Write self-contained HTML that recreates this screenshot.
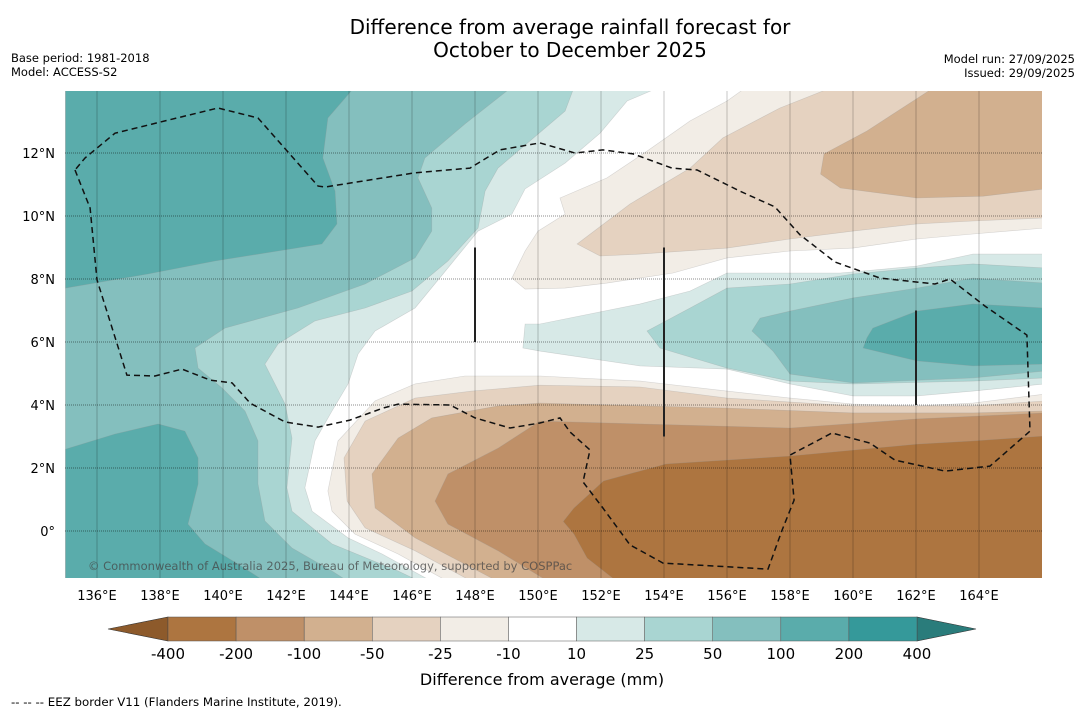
<!DOCTYPE html>
<html><head><meta charset="utf-8"><style>
body{margin:0;background:#fff;width:1085px;height:713px;overflow:hidden;font-family:"Liberation Sans","DejaVu Sans",sans-serif}
svg text{font-family:"DejaVu Sans","Liberation Sans",sans-serif}
</style></head><body>
<svg id="chart" width="1085" height="713" xmlns="http://www.w3.org/2000/svg">
<text x="570" y="34" text-anchor="middle" font-size="20">Difference from average rainfall forecast for</text>
<text x="570" y="57" text-anchor="middle" font-size="20">October to December 2025</text>
<text x="11" y="62" font-size="11.5">Base period: 1981-2018</text>
<text x="11" y="76" font-size="11.5">Model: ACCESS-S2</text>
<text x="1075" y="63" text-anchor="end" font-size="11.5">Model run: 27/09/2025</text>
<text x="1075" y="77" text-anchor="end" font-size="11.5">Issued: 29/09/2025</text>
<defs><clipPath id="mc"><rect x="65" y="91" width="977" height="487"/></clipPath></defs>
<g id="map" clip-path="url(#mc)"></g>
<g id="axes"></g>
<g id="cbar"></g>
<text x="542" y="685" text-anchor="middle" font-size="16">Difference from average (mm)</text>
<text x="11" y="706" font-size="11.8">--  --  -- EEZ border V11 (Flanders Marine Institute, 2019).</text>
</svg>
<script>
const lonTicks=[136,138,140,142,144,146,148,150,152,154,156,158,160,162,164];
const latTicks=[0,2,4,6,8,10,12];
const levels=[-400,-200,-100,-50,-25,-10,10,25,50,100,200,400];
const levelColors=["#ad7540","#bf9068","#d2b08f","#e5d2c0","#f2ede6","#ffffff","#d7e9e7","#a9d5d2","#84bfbe","#5aacab","#35999a"];
// contour regions [lon,lat]
const W10=[[135,14],[153.65,14],[152.83,13.65],[151.97,12.63],[150.86,11.68],[149.59,10.86],[149.17,10.06],[148.1,9.52],[147.14,8.35],[146.1,7.08],[144.83,6.35],[144.29,5.62],[143.97,4.67],[143.46,3.81],[142.92,2.86],[142.6,1.37],[142.83,0.63],[143.97,-0.22],[145.05,-0.73],[146.63,-1.6],[135,-1.6]];
const W25=[[135,14],[151.11,14],[150.86,13.33],[150,12.6],[148.73,11.52],[148.32,10.79],[148.1,9.62],[147.14,8.57],[146,7.62],[144.51,7.08],[142.92,6.67],[141.75,5.94],[141.33,5.3],[141.97,4.03],[142.19,2.95],[142.03,1.37],[142.19,0.63],[143.46,-0.41],[145.56,-1.27],[146.25,-1.6],[135,-1.6]];
const W50=[[135,14],[149.05,14],[147.68,12.92],[146.41,11.84],[146.19,11.21],[146.63,10.25],[146.63,9.52],[146.1,8.67],[144.51,7.84],[142.38,7.08],[140.06,6.44],[139.11,5.81],[139.21,5.17],[139.97,4.54],[140.7,3.81],[141.11,2.86],[141.11,1.49],[141.33,0.32],[142.19,-0.54],[143.46,-1.27],[143.97,-1.6],[135,-1.6]];
const W100N=[[135,14],[144.1,14],[143.33,13.11],[143.17,11.84],[143.56,10.79],[143.62,9.75],[143.14,9.11],[141.75,8.89],[139.75,8.57],[137.62,8.16],[135,7.71]];
const W100S=[[135,2.6],[136.57,3.08],[137.94,3.4],[138.79,3.17],[139.21,2.32],[139.21,1.49],[138.89,0.22],[139.43,-0.41],[140.48,-1.05],[141.33,-1.6],[135,-1.6]];
const E10=[[150.06,6.57],[149.59,6.57],[149.52,5.81],[150.06,5.71],[153.24,5.24],[156,5.14],[158,4.67],[160,4.29],[162.03,4.29],[163.81,4.44],[166.1,4.67],[166.1,8.79],[163.81,8.79],[162.03,8.41],[159.59,8.19],[156,8.19],[154.83,7.62],[153.24,7.21]];
const E25=[[153.46,6.35],[154.83,7.08],[156,7.71],[158,7.84],[160,8.16],[162.03,8.35],[163.81,8.48],[166.1,8.35],[166.1,4.86],[163.81,4.76],[160,4.67],[158,4.76],[156,5.17],[153.87,5.81]];
const E50=[[156.79,6.35],[157.05,6.76],[158,6.98],[160,7.4],[162.03,7.71],[163.81,8.03],[166.1,7.87],[166.1,5.08],[163.81,4.86],[160,4.7],[158,4.98],[157.46,5.71]];
const E100=[[160.44,6.13],[160.63,6.44],[162.03,6.98],[163.81,7.21],[166.1,7.08],[166.1,5.3],[163.81,5.24],[162.03,5.4],[160.32,5.81]];
const S10=[[166.1,4.35],[163.81,4.06],[162.03,3.97],[160,4.03],[158,4.22],[156,4.44],[153.24,4.76],[150.06,4.92],[147.68,4.92],[146.1,4.67],[144.83,4.13],[143.65,2.86],[143.33,1.27],[143.46,0.63],[144.19,-0.1],[145.56,-0.73],[147.14,-1.6],[166.1,-1.6]];
const S25=[[166.1,4.13],[163.81,3.97],[160,3.97],[156,4.22],[153.24,4.57],[150.06,4.63],[147.9,4.44],[146.1,4.22],[144.51,3.49],[143.84,2.32],[143.94,0.95],[144.51,0.1],[146.1,-0.63],[147.9,-1.6],[166.1,-1.6]];
const S50=[[166.1,3.81],[163.81,3.75],[160,3.75],[156,3.9],[150.06,4.06],[148.73,3.97],[146.63,3.59],[145.56,2.95],[144.73,1.81],[144.83,0.73],[146.1,-0.22],[147.68,-1.05],[148.73,-1.6],[166.1,-1.6]];
const S100=[[166.1,3.75],[162.03,3.56],[158,3.27],[153.24,3.4],[150.06,3.49],[148.73,2.63],[147.14,1.81],[146.73,0.95],[147.14,0.22],[148.73,-0.63],[150.32,-1.6],[166.1,-1.6]];
const S200=[[166.1,3.02],[163.81,2.86],[162.03,2.76],[158,2.38],[154.06,2.13],[152.08,1.59],[151.14,0.73],[150.8,0.3],[151.14,-0.1],[151.56,-0.86],[152.5,-1.6],[166.1,-1.6]];
const N10=[[156.63,14.1],[156,13.65],[154.83,13.02],[153.46,12.06],[152.19,11.21],[150.7,10.57],[150.86,10.06],[150,9.52],[149.59,8.89],[149.17,8.03],[149.59,7.68],[150.86,7.71],[152.19,7.87],[154.29,8.19],[156,8.67],[158,8.89],[160,8.98],[162.03,9.27],[163.81,9.43],[166.1,9.62],[166.1,14.1]];
const N25=[[159.37,14.1],[157.68,13.43],[155.87,12.48],[154.83,11.52],[152.92,10.38],[151.24,9.11],[151.97,8.73],[153.24,8.79],[156,8.98],[158,9.27],[160,9.52],[162.03,9.75],[163.81,9.84],[166.1,9.94],[166.1,14.1]];
const N50=[[162.6,14.1],[160.44,12.7],[159.08,11.97],[158.97,11.33],[159.6,10.89],[162.03,10.57],[164.13,10.63],[166.1,10.86],[166.1,14.1]];
const eez=[[135.3,11.46],[135.78,10.25],[136,7.97],[136.95,4.95],[137.84,4.92],[138.7,5.14],[139.59,4.79],[140.29,4.7],[140.86,4.06],[141.97,3.46],[143.02,3.3],[144.03,3.52],[145.08,3.9],[145.56,4.03],[147.21,4.0],[148,3.59],[149.11,3.27],[150.06,3.43],[150.7,3.59],[151.02,3.14],[151.65,2.57],[151.43,1.56],[152.06,0.73],[152.92,-0.44],[153.97,-1.02],[157.3,-1.21],[157.75,0.03],[158.13,0.98],[158,2.41],[159.33,3.11],[160.54,2.79],[161.33,2.25],[162.92,1.9],[164.35,2.06],[165.62,3.17],[165.52,6.22],[164.19,7.14],[163.08,8.0],[162.6,7.84],[160.86,8.03],[159.43,8.54],[158.32,9.4],[157.52,10.29],[156.41,10.79],[155.05,11.46],[154.25,11.52],[153.02,11.97],[152.06,12.1],[151.17,12.0],[150.06,12.32],[148.79,12.1],[148,11.62],[147.84,11.52],[146.1,11.37],[143.24,10.92],[143.02,10.95],[141.11,13.11],[139.84,13.43],[138.16,13.02],[136.57,12.63],[135.62,11.84],[135.3,11.46]];
const bars=[[148,9,6],[154,9,3],[162,7,4]];

const X=lon=>65.5+(lon-135)*31.5, Y=lat=>531-lat*31.5;
const NS="http://www.w3.org/2000/svg";
const map=document.getElementById('map'), axes=document.getElementById('axes'), cb=document.getElementById('cbar');
function mk(tag,attrs,parent){const e=document.createElementNS(NS,tag);for(const k in attrs)e.setAttribute(k,attrs[k]);parent.appendChild(e);return e;}
const pts=a=>a.map(p=>X(p[0]).toFixed(1)+','+Y(p[1]).toFixed(1)).join(' ');
const bg=mk('rect',{x:65,y:91,width:977,height:487,fill:'#ffffff'},map);


const layers=[["contour-west-10",W10,6],["contour-west-25",W25,7],["contour-west-50",W50,8],["contour-west-100-north",W100N,9],["contour-west-100-south",W100S,9],["contour-east-10",E10,6],["contour-east-25",E25,7],["contour-east-50",E50,8],["contour-east-100",E100,9],["contour-south-10",S10,4],["contour-south-25",S25,3],["contour-south-50",S50,2],["contour-south-100",S100,1],["contour-south-200",S200,0],["contour-north-10",N10,4],["contour-north-25",N25,3],["contour-north-50",N50,2]];
layers.forEach(l=>{const p=mk('polygon',{points:pts(l[1]),fill:levelColors[l[2]],stroke:'rgba(150,150,150,0.35)','stroke-width':0.6},map);

});
lonTicks.forEach(v=>{const g=mk('line',{x1:X(v),x2:X(v),y1:91,y2:578,stroke:'rgba(0,0,0,0.22)','stroke-width':1},map);


const t=mk('text',{x:X(v),y:600,'text-anchor':'middle','font-size':13},axes);t.textContent=v+'°E';

});
latTicks.forEach(v=>{const g=mk('line',{x1:65,x2:1042,y1:Y(v),y2:Y(v),stroke:'rgba(0,0,0,0.45)','stroke-width':1,'stroke-dasharray':'1,1'},map);


const t=mk('text',{x:55,y:Y(v)+5,'text-anchor':'end','font-size':13},axes);t.textContent=v===0?'0°':v+'°N';

});
bars.forEach(b=>{const l=mk('line',{x1:X(b[0]),x2:X(b[0]),y1:Y(b[1]),y2:Y(b[2]),stroke:'#222','stroke-width':2},map);

});
const e=mk('polyline',{points:pts(eez),fill:'none',stroke:'#111','stroke-width':1.5,'stroke-dasharray':'6,4'},map);


const cp=mk('text',{x:88,y:570,'font-size':11.5,fill:'rgba(70,70,70,0.75)'},map);cp.textContent='© Commonwealth of Australia 2025, Bureau of Meteorology, supported by COSPPac';


// colorbar
const cx0=168,cw=(917-168)/11,cy=617,ch=24;
const lt=mk('polygon',{points:`108,${cy+ch/2} ${cx0},${cy} ${cx0},${cy+ch}`,fill:'#8d5a2b',stroke:'#333','stroke-width':0.6},cb);


const rt=mk('polygon',{points:`976,${cy+ch/2} 917,${cy} 917,${cy+ch}`,fill:'#2a7c7b',stroke:'#333','stroke-width':0.6},cb);


levelColors.forEach((c,i)=>{const r=mk('rect',{x:cx0+i*cw,y:cy,width:cw,height:ch,fill:c,stroke:'#555','stroke-width':0.5},cb);

});
levels.forEach((v,i)=>{const t=mk('text',{x:cx0+i*cw,y:659,'text-anchor':'middle','font-size':15},cb);t.textContent=v;

});
</script>
</body></html>
